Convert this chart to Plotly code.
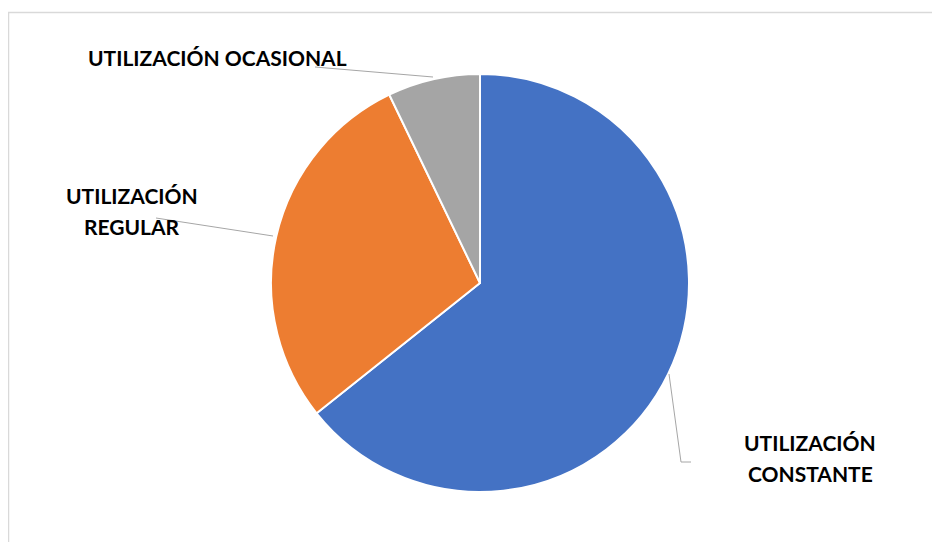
import plotly.graph_objects as go

W, H = 940, 542
OFF = 8  # page body margin offset

categories = ["UTILIZACIÓN CONSTANTE", "UTILIZACIÓN REGULAR", "UTILIZACIÓN OCASIONAL"]
label_lines = [["UTILIZACIÓN", "CONSTANTE"], ["UTILIZACIÓN", "REGULAR"], ["UTILIZACIÓN OCASIONAL"]]
values = [9, 4, 1]
colors = ["#4472C4", "#ED7D31", "#A5A5A5"]


def px(x):
    return (x - OFF) / W


def py(y):
    return 1 - (y - OFF) / H


fig = go.Figure(go.Pie(
    labels=categories,
    values=values,
    sort=False,
    direction="clockwise",
    rotation=0,
    marker=dict(colors=colors, line=dict(color="white", width=2)),
    textinfo="none",
    hoverinfo="label+value+percent",
    domain=dict(x=[px(271), px(689)], y=[py(492), py(74)]),
    showlegend=False,
))

label_pos = [(810, 458), (132, 211), (217, 57)]
line_gap = 31
font = dict(family="Lato, 'Open Sans', sans-serif", size=21, color="black")
annotations = []
for lines, (x, y) in zip(label_lines, label_pos):
    n = len(lines)
    for i, ln in enumerate(lines):
        yy = y + (i - (n - 1) / 2) * line_gap
        annotations.append(dict(
            text="<b>" + ln + "</b>", x=px(x), y=py(yy), xref="paper", yref="paper",
            showarrow=False, xanchor="center", yanchor="middle", font=font, align="center",
        ))

line_style = dict(color="#A6A6A6", width=1)
leaders = [
    [(669, 374), (681, 462), (691, 462)],
    [(156, 218), (273, 236)],
    [(315, 67), (433, 77)],
]
shapes = []
for pts in leaders:
    path = "M " + " L ".join(f"{px(x)},{py(y)}" for x, y in pts)
    shapes.append(dict(type="path", path=path, xref="paper", yref="paper", line=line_style))

shapes.append(dict(type="rect", xref="paper", yref="paper",
                   x0=px(8.5), y0=py(12.5), x1=px(980), y1=py(600),
                   line=dict(color="#D9D9D9", width=1.5), layer="below"))

fig.update_layout(
    width=W, height=H,
    margin=dict(l=0, r=0, t=0, b=0),
    paper_bgcolor="white", plot_bgcolor="white",
    annotations=annotations, shapes=shapes,
)

fig.write_html("out.html")
